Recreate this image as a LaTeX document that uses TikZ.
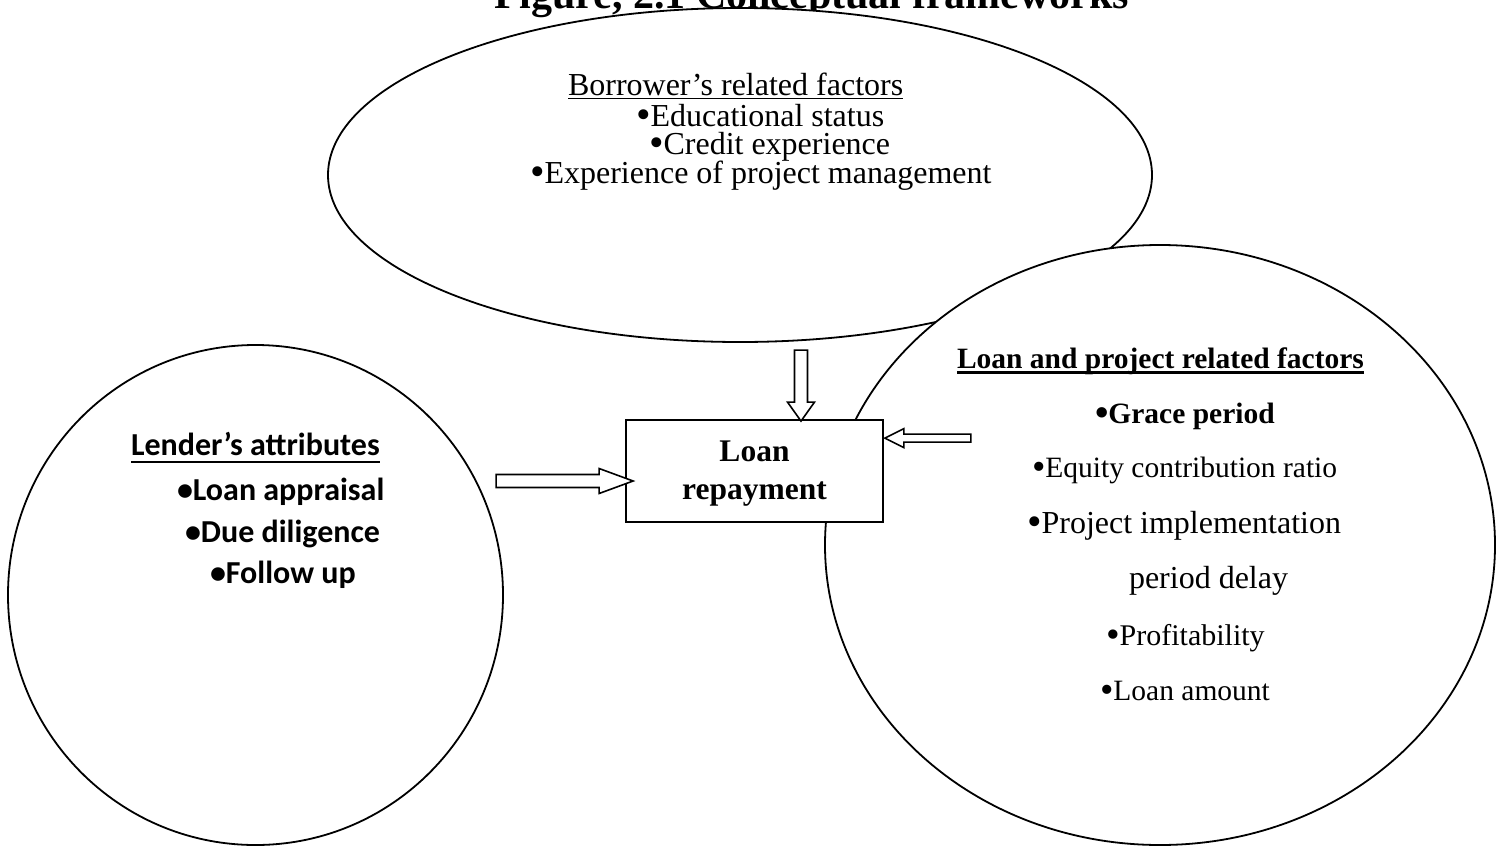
\documentclass[tikz,border=0pt]{standalone}
\usepackage{fontspec}
\usepackage{graphicx}
\setmainfont{Liberation Serif}
\newfontfamily\calibrifont{Carlito}
\newcommand\tbul{\raisebox{-0.09em}{\scalebox{1.3}{•}}}
\usetikzlibrary{shapes.geometric,calc}
\begin{document}
\begin{tikzpicture}[x=1pt,y=-1pt,
  ring/.style={ellipse,draw,line width=1.8pt,fill=white,inner sep=0pt,outer sep=0pt},
  txt/.style={anchor=base west,inner sep=0pt,outer sep=0pt},
  tnr/.style={txt,font=\fontsize{#1}{#1}\selectfont},
  tnrb/.style={txt,font=\fontsize{#1}{#1}\selectfont\bfseries},
  cal/.style={txt,font=\fontsize{32}{32}\selectfont\calibrifont\bfseries},
  barrow/.style={draw,line width=1.6pt,fill=white,line join=miter},
  uline/.style={line width=#1}]
\useasboundingbox (0,0) rectangle (1502,846);
\clip (0,0) rectangle (1502,846);
% title (cut off at the top)
\node[tnrb=42] (title) at (494,8) {Figure, 2.1 Conceptual frameworks};
% rings
\node[ring,minimum width=824pt,minimum height=334pt] (borrower) at (740,175) {};
\node[ring,minimum width=670pt,minimum height=600pt] (loanproj) at (1160,545) {};
\node[ring,minimum width=495pt,minimum height=500pt] (lender) at (255.5,595) {};
% central box
\node[draw,line width=1.8pt,fill=white,minimum width=257pt,minimum height=102pt,inner sep=0pt] (box) at (754.5,471) {};
\node[tnrb=31.5,anchor=base] (lr1) at (754.5,461) {Loan};
\node[tnrb=31.5,anchor=base] (lr2) at (754.5,499) {repayment};
% borrower texts
\node[tnr=32] (b0) at (568,95) {Borrower’s related factors};
\node[tnr=32] (b1) at (636,126) {\tbul Educational status};
\node[tnr=32] (b2) at (649,154) {\tbul Credit experience};
\node[tnr=32] (b3) at (530,183) {\tbul Experience of project management};
\draw[uline=1.3pt] ($(b0.base west)+(0,3.5)$) -- ($(b0.base east)+(0,3.5)$);
% loan and project texts
\node[tnrb=29.5] (p0) at (957,368) {Loan and project related factors};
\node[tnrb=29.5] (p1) at (1095,423) {\tbul Grace period};
\node[tnr=29.5] (p2) at (1032,477) {\tbul Equity contribution ratio};
\node[tnr=32] (p3) at (1027,533) {\tbul Project implementation};
\node[tnr=32] (p4) at (1129,588) {period delay};
\node[tnr=30] (p5) at (1106,645) {\tbul Profitability};
\node[tnr=29.5] (p6) at (1100,700) {\tbul Loan amount};
\draw[uline=2.2pt] ($(p0.base west)+(0,4.5)$) -- ($(p0.base east)+(0,4.5)$);
% lender texts
\node[cal] (l0) at (131,455) {Lender’s attributes};
\node[cal] (l1) at (177,500) {•Loan appraisal};
\node[cal] (l2) at (185,542) {•Due diligence};
\node[cal] (l3) at (210,583) {•Follow up};
\draw[uline=2.6pt] ($(l0.base west)+(0,7)$) -- ($(l0.base east)+(0,7)$);
% block arrows
\coordinate (tipD) at ($(box.north)+(46.5,2)$);
\coordinate (tipL) at ($(box.north east)+(1,19)$);
\coordinate (tipR) at ($(box.west)+(8,10)$);
\draw[barrow] (tipD) -- ++(-13.5,-19) -- ++(7,0) -- ++(0,-52) -- ++(13,0) -- ++(0,52) -- ++(7,0) -- cycle;
\draw[barrow] (tipL) -- ++(19,-9.5) -- ++(0,5.5) -- ++(67,0) -- ++(0,8) -- ++(-67,0) -- ++(0,5.5) -- cycle;
\draw[barrow] (tipR) -- ++(-34,-12.5) -- ++(0,6) -- ++(-103,0) -- ++(0,13) -- ++(103,0) -- ++(0,6) -- cycle;
\end{tikzpicture}
\end{document}
